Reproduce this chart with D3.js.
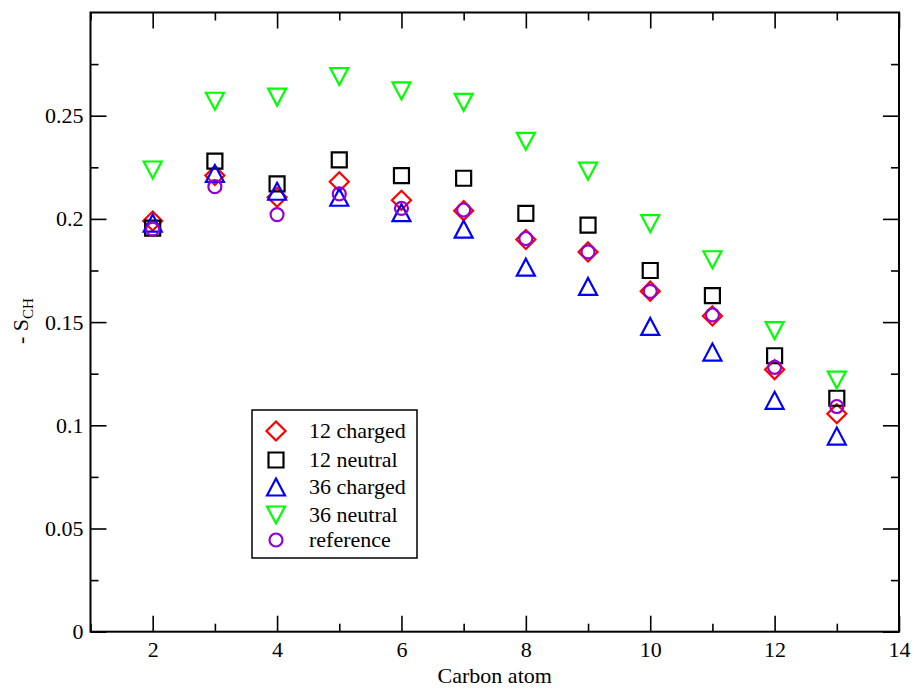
<!DOCTYPE html>
<html>
<head>
<meta charset="utf-8">
<script src="https://cdn.jsdelivr.net/npm/d3@7"></script>
<style>
  html, body { margin: 0; padding: 0; background: #fff; }
</style>
</head>
<body>
<svg id="chart" width="914" height="689" font-family="Liberation Serif, Times New Roman, serif"></svg>
<script>
const carbons   = [2, 3, 4, 5, 6, 7, 8, 9, 10, 11, 12, 13];
const charged12 = [0.199, 0.221, 0.2105, 0.218, 0.209, 0.204, 0.190, 0.184, 0.165, 0.153, 0.127, 0.1056];
const neutral12 = [0.1955, 0.228, 0.217, 0.2286, 0.221, 0.2197, 0.2027, 0.197, 0.175, 0.1628, 0.1337, 0.1131];
const charged36 = [0.198, 0.222, 0.2134, 0.2105, 0.203, 0.195, 0.1766, 0.1673, 0.1479, 0.1355, 0.1121, 0.0948];
const neutral36 = [0.2237, 0.257, 0.259, 0.269, 0.262, 0.2565, 0.2376, 0.2231, 0.1977, 0.1802, 0.1459, 0.1219];
const reference = [0.195, 0.2156, 0.2021, 0.2121, 0.2051, 0.2043, 0.1905, 0.184, 0.1649, 0.1535, 0.1281, 0.1091];

const seriesNames = ["12 charged", "12 neutral", "36 charged", "36 neutral", "reference"];
const xMajorTicks = [2, 4, 6, 8, 10, 12, 14];
const xMinorTicks = [1, 3, 5, 7, 9, 11, 13];
const yMajorTicks = [0, 0.05, 0.1, 0.15, 0.2, 0.25];
const yMinorTicks = [0.025, 0.075, 0.125, 0.175, 0.225, 0.275];
const yTickLabels = ["0", "0.05", "0.1", "0.15", "0.2", "0.25"];

const FONT = "Liberation Serif, Times New Roman, serif";
const svg = d3.select("#chart");
const L = 90.5, R = 899, T = 12.5, B = 631.7;
const x = d3.scaleLinear().domain([1, 14]).range([L, R]);
const y = d3.scaleLinear().domain([0, 0.3]).range([B, T]);

const FS = 22;
const major = 16, minor = 8;

function styleAxis(g) {
  g.attr("font-family", FONT).attr("font-size", FS);
  g.select(".domain").remove();
  g.selectAll(".tick line").attr("stroke", "#000").attr("stroke-width", 1.6);
  g.selectAll(".tick text").attr("fill", "#000").attr("font-family", FONT).attr("font-size", FS);
}

// Bottom axis
svg.append("g").attr("transform", `translate(0,${B})`)
  .call(d3.axisBottom(x).tickValues(xMajorTicks).tickFormat(d3.format("d")).tickSize(-major).tickPadding(10))
  .call(styleAxis);
svg.append("g").attr("transform", `translate(0,${B})`)
  .call(d3.axisBottom(x).tickValues(xMinorTicks).tickFormat("").tickSize(-minor))
  .call(styleAxis);
// Top axis
svg.append("g").attr("transform", `translate(0,${T})`)
  .call(d3.axisTop(x).tickValues(xMajorTicks).tickFormat("").tickSize(-major))
  .call(styleAxis);
svg.append("g").attr("transform", `translate(0,${T})`)
  .call(d3.axisTop(x).tickValues(xMinorTicks).tickFormat("").tickSize(-minor))
  .call(styleAxis);
// Left axis
svg.append("g").attr("transform", `translate(${L},0)`)
  .call(d3.axisLeft(y).tickValues(yMajorTicks).tickFormat((d, i) => yTickLabels[i]).tickSize(-major).tickPadding(7))
  .call(styleAxis);
svg.append("g").attr("transform", `translate(${L},0)`)
  .call(d3.axisLeft(y).tickValues(yMinorTicks).tickFormat("").tickSize(-minor))
  .call(styleAxis);
// Right axis
svg.append("g").attr("transform", `translate(${R},0)`)
  .call(d3.axisRight(y).tickValues(yMajorTicks).tickFormat("").tickSize(-major))
  .call(styleAxis);
svg.append("g").attr("transform", `translate(${R},0)`)
  .call(d3.axisRight(y).tickValues(yMinorTicks).tickFormat("").tickSize(-minor))
  .call(styleAxis);

// Frame
svg.append("rect").attr("x", L).attr("y", T).attr("width", R - L).attr("height", B - T)
  .attr("fill", "none").attr("stroke", "#000").attr("stroke-width", 2);

// Marker shapes
const shapes = {
  diamond: "M0,-9.5L9.5,0L0,9.5L-9.5,0Z",
  square: "M-7.5,-7.5H7.5V7.5H-7.5Z",
  triUp: "M0,-8.5L9,8.5L-9,8.5Z",
  triDown: "M0,8.5L9,-8.5L-9,-8.5Z",
  circle: "M6.5,0A6.5,6.5 0 1,1 -6.5,0A6.5,6.5 0 1,1 6.5,0Z"
};
const series = [
  { name: seriesNames[0], values: charged12, color: "#ff0000", shape: shapes.diamond },
  { name: seriesNames[1], values: neutral12, color: "#000000", shape: shapes.square },
  { name: seriesNames[2], values: charged36, color: "#0000ff", shape: shapes.triUp },
  { name: seriesNames[3], values: neutral36, color: "#00ff00", shape: shapes.triDown },
  { name: seriesNames[4], values: reference, color: "#9400d3", shape: shapes.circle }
];

series.forEach(s => {
  svg.append("g").selectAll("path")
    .data(carbons.map((c, i) => [c, s.values[i]]))
    .join("path")
    .attr("d", s.shape)
    .attr("transform", d => `translate(${x(d[0])},${y(d[1])})`)
    .attr("fill", "none").attr("stroke", s.color).attr("stroke-width", 2.2);
});

// Legend
const lg = svg.append("g");
lg.append("rect").attr("x", 252).attr("y", 410).attr("width", 165).attr("height", 148)
  .attr("fill", "#fff").attr("stroke", "#000").attr("stroke-width", 1.5);
const rowY = [431, 460, 487, 515, 540];
series.forEach((s, i) => {
  lg.append("path").attr("d", s.shape).attr("transform", `translate(276,${rowY[i]})`)
    .attr("fill", "none").attr("stroke", s.color).attr("stroke-width", 2.2);
  lg.append("text").attr("x", 309).attr("y", rowY[i] + 7)
    .attr("font-family", FONT).attr("font-size", FS)
    .attr("fill", "#000").text(s.name);
});

// Axis titles
svg.append("text").attr("x", (L + R) / 2).attr("y", 683).attr("text-anchor", "middle")
  .attr("font-family", FONT).attr("font-size", FS).text("Carbon atom");
const yl = svg.append("text").attr("transform", "translate(28,321) rotate(-90)")
  .attr("text-anchor", "middle").attr("font-family", FONT).attr("font-size", FS);
yl.append("tspan").text("- S");
yl.append("tspan").attr("dy", 5).attr("font-size", 15).text("CH");
</script>
</body>
</html>
